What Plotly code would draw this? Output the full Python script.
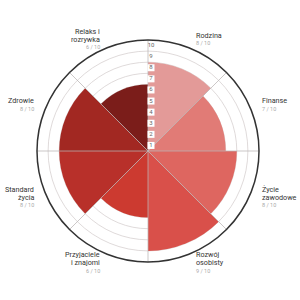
import math
import plotly.graph_objects as go

categories = [["Rodzina"], ["Finanse"], ["Życie", "zawodowe"], ["Rozwój", "osobisty"],
              ["Przyjaciele", "i znajomi"], ["Standard", "życia"], ["Zdrowie"], ["Relaks i", "rozrywka"]]
values = [8, 7, 8, 9, 6, 8, 8, 6]
max_value = 10
colors = ["#e39a98", "#e17b76", "#de6660", "#d9504a", "#cc3a30", "#b8302a", "#a22822", "#7b1d1a"]
radial_ticks = list(range(1, 11))
boxed_ticks = list(range(1, 9))

n = len(categories)
sector = 360 / n
theta_deg = [i * sector + sector / 2 for i in range(n)]

fig = go.Figure()
fig.add_trace(go.Barpolar(
    r=values, theta=theta_deg, width=[sector] * n,
    marker=dict(color=colors, line=dict(width=0)),
    hoverinfo="skip",
))

for i in range(n):
    fig.add_trace(go.Scatterpolar(
        r=[0, max_value], theta=[i * sector] * 2, mode="lines",
        line=dict(color="rgba(185,180,180,0.75)", width=1), hoverinfo="skip",
    ))

# radial tick labels, centred in each ring, with white boxes inside the bars
off = 0.27
ring_mid = [t - 0.5 for t in radial_ticks]
fig.add_trace(go.Scatterpolar(
    r=[math.hypot(m, off) for m in ring_mid],
    theta=[math.degrees(math.atan2(off, m)) for m in ring_mid],
    mode="markers+text",
    text=[str(t) for t in radial_ticks],
    textposition="middle center",
    textfont=dict(size=6, color="#666666", family="Roboto"),
    marker=dict(symbol="square", size=7,
                color=["white" if t in boxed_ticks else "rgba(0,0,0,0)" for t in radial_ticks],
                line=dict(width=0)),
    hoverinfo="skip",
))

fig.update_layout(
    width=300, height=300,
    margin=dict(l=37, r=41, t=40, b=38),
    paper_bgcolor="white",
    showlegend=False,
    font=dict(family="Roboto", size=8, color="#444444"),
    polar=dict(
        bgcolor="white",
        barmode="overlay",
        radialaxis=dict(
            range=[0, max_value], tickvals=radial_ticks, showticklabels=False,
            angle=90, showline=False, ticks="",
            gridcolor="rgba(210,204,204,0.72)", gridwidth=1, layer="above traces",
        ),
        angularaxis=dict(
            rotation=90, direction="clockwise",
            showticklabels=False, ticks="",
            showline=True, linecolor="#333333", linewidth=1.5,
            showgrid=False,
        ),
    ),
)

# category labels outside the circle
label_r = 121
line_gap = 8
for ang, lines, v in zip(theta_deg, categories, values):
    a = math.radians(ang)
    dx = label_r * math.sin(a)
    dy = label_r * math.cos(a)
    right = dx > 0
    all_lines = [(l, 7.2, "#333333") for l in lines] + [(f"{v} / {max_value}", 5.5, "#aaaaaa")]
    k = len(all_lines)
    for j, (txt, size, col) in enumerate(all_lines):
        fig.add_annotation(
            x=0.5, y=0.5, xref="paper", yref="paper", text=txt, showarrow=False,
            xanchor="left" if right else "right", yanchor="middle",
            align="left" if right else "right",
            xshift=dx, yshift=dy + ((k - 1) / 2 - j) * line_gap,
            font=dict(size=size, color=col, family="Roboto"),
        )

fig.write_html("out.html")
